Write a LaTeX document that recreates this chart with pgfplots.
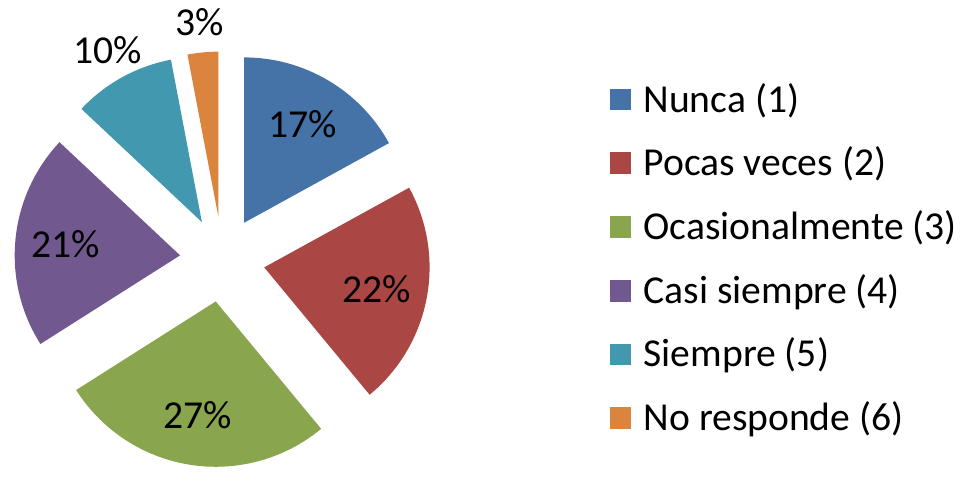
\documentclass[border=0pt]{standalone}
\usepackage{pgfplots}
\pgfplotsset{compat=1.18}
\usepackage{fontspec}
\setmainfont{Carlito}

\definecolor{cA}{HTML}{4573A7}
\definecolor{cB}{HTML}{AA4644}
\definecolor{cC}{HTML}{89A54E}
\definecolor{cD}{HTML}{71588F}
\definecolor{cE}{HTML}{4198AF}
\definecolor{cF}{HTML}{DB843D}

% pie in pixel-like units (1 unit = 0.5pt), centre, radius, explode offset
\def\cx{215}\def\cy{262}
\def\rad{83.5pt}
\def\expl{43}

\begin{document}
\begin{tikzpicture}
\begin{axis}[
  width=480.5pt, height=234pt, scale only axis,
  xmin=0, xmax=961, ymin=0, ymax=468, y dir=reverse,
  hide axis, clip=false,
]
\pgfplotsextra{
  \path[draw=none] (axis cs:0,0) rectangle (axis cs:961,468);
  \xdef\cum{0}
  \foreach \v/\c/\d/\name [count=\i from 0] in {
      17/cA/159/Nunca (1),
      22/cB/159/Pocas veces (2),
      27/cC/159/Ocasionalmente (3),
      21/cD/159/Casi siempre (4),
      10/cE/241/Siempre (5),
      3/cF/241/No responde (6)}{
    \pgfmathsetmacro\aS{90-3.6*\cum}
    \pgfmathsetmacro\aE{90-3.6*(\cum+\v)}
    \pgfmathsetmacro\aM{(\aS+\aE)/2}
    \pgfmathsetmacro\px{\cx+\expl*cos(\aM)}
    \pgfmathsetmacro\py{\cy-\expl*sin(\aM)}
    \fill[\c] (axis cs:\px,\py) -- ++(\aS:\rad)
      arc[start angle=\aS, end angle=\aE, radius=\rad] -- cycle;
    \pgfmathsetmacro\lx{\cx+\d*cos(\aM)}
    \pgfmathsetmacro\ly{\cy-\d*sin(\aM)}
    \node[font=\fontsize{20}{24}\selectfont, inner sep=0pt]
      at (axis cs:\lx,\ly) {\v\%};
    % legend entry
    \pgfmathsetmacro\gy{100.5+64.4*\i}
    \fill[\c] (axis cs:606,\gy-11) rectangle (axis cs:628,\gy+11);
    \node[font=\fontsize{20}{24}\selectfont, inner sep=0pt, anchor=west]
      at (axis cs:640,\gy+1) {\name};
    \pgfmathsetmacro\cumn{\cum+\v}
    \xdef\cum{\cumn}
  }
}
\end{axis}
\end{tikzpicture}
\end{document}
